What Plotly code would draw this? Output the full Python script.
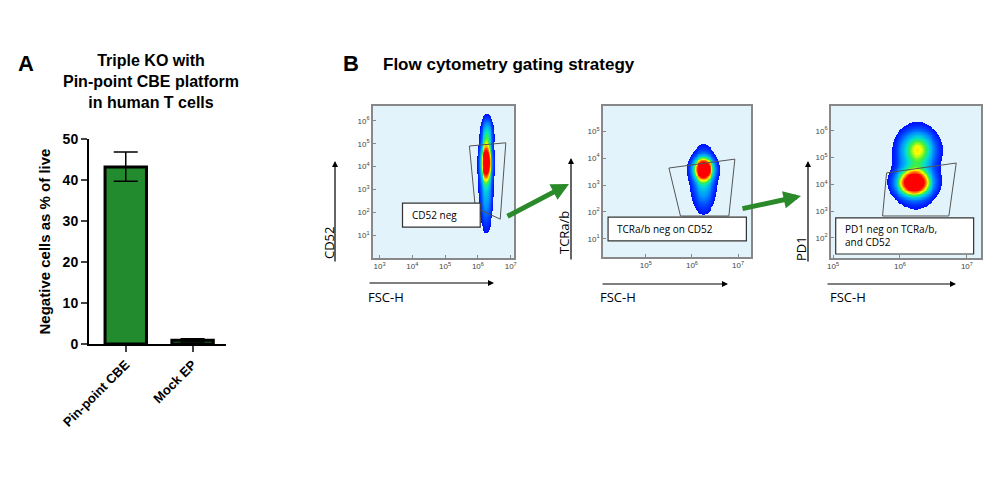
import numpy as np
import plotly.graph_objects as go

W, H = 1000, 495
OFF = 7  # page body margin
def px(x): return (x - OFF) / W
def py(y): return 1 - (y - OFF) / H

# ---- Panel A data ----
categories = ["Pin-point CBE", "Mock EP"]
values = [43.2, 0.9]
err_plus = [3.6, 0.4]
err_minus = [3.5, 0.4]

# ---- Panel B data (log10 units) ----
plot_names = ["CD52", "TCRa/b", "PD1"]
x_ranges = [[2.8, 7.1], [4.07, 7.28], [4.97, 7.21]]
y_ranges = [[0.0, 6.65], [0.33, 5.93], [1.25, 6.93]]
x_ticks = [[3, 4, 5, 6, 7], [5, 6, 7], [5, 6, 7]]
y_ticks = [[1, 2, 3, 4, 5, 6], [1, 2, 3, 4, 5], [2, 3, 4, 5, 6]]
# population blobs: (x centre, y centre, x spread, y spread, weight)
blobs = [
    [(6.25, 4.2, 0.1, 0.5, 1.0), (6.25, 3.0, 0.12, 1.0, 0.25), (6.28, 5.4, 0.11, 0.45, 0.3)],
    [(6.25, 3.6, 0.13, 0.25, 1.0), (6.25, 3.2, 0.15, 0.65, 0.3)],
    [(6.21, 4.05, 0.15, 0.3, 1.0), (6.27, 5.35, 0.16, 0.4, 0.38), (6.24, 4.6, 0.18, 0.8, 0.22)],
]
gates = [
    ([5.74, 6.85, 6.68, 5.92, 5.74], [4.9, 5.04, 1.7, 2.2, 4.9]),
    ([5.5, 6.93, 6.8, 5.75, 5.5], [3.63, 3.96, 1.85, 1.85, 3.63]),
    ([5.8, 6.84, 6.73, 5.74, 5.8], [4.43, 4.8, 2.82, 2.82, 4.43]),
]
gate_labels = ["CD52 neg", "TCRa/b neg on CD52", "PD1 neg on TCRa/b,<br>and CD52"]
label_boxes = [(3.7, 6.07, 1.35, 2.4), (4.18, 7.18, 0.93, 1.81), (5.04, 7.1, 1.4, 2.75)]
frames_px = [(372, 513, 105, 257), (602, 750, 105, 256), (830, 980, 105, 257)]

fig = go.Figure()

fig.add_trace(go.Bar(
    x=categories, y=values, width=0.62,
    marker=dict(color="#228b2e", line=dict(color="black", width=3)),
    error_y=dict(type="data", array=err_plus, arrayminus=err_minus, color="black",
                 thickness=1.5, width=12),
    xaxis="x", yaxis="y", showlegend=False))

jet = [[0, "#0010ff"], [0.2, "#0090ff"], [0.38, "#00e0d0"], [0.52, "#40f040"],
       [0.66, "#ffff00"], [0.82, "#ff8000"], [1, "#ff0000"]]

layout = dict(
    width=W, height=H, margin=dict(l=0, r=0, t=0, b=0, autoexpand=False),
    paper_bgcolor="white", plot_bgcolor="white", showlegend=False,
    font=dict(family="Liberation Sans, Arial", color="black"),
    xaxis=dict(domain=[px(88), px(225)], range=[-0.55, 1.5], showline=True, automargin=False,
               linecolor="black", linewidth=2, ticks="outside", ticklen=6, tickwidth=2,
               tickangle=-45, tickfont=dict(size=13, family="Liberation Sans", color="black"),
               tickvals=categories, ticktext=["<b>%s</b>" % c for c in categories],
               anchor="y"),
    yaxis=dict(domain=[py(343), py(138)], range=[0, 50], showline=True, linecolor="black",
               linewidth=2, ticks="outside", ticklen=6, tickwidth=2, showgrid=False,
               automargin=False, tickvals=[0, 10, 20, 30, 40, 50],
               ticktext=["<b>%d</b>" % v for v in [0, 10, 20, 30, 40, 50]],
               tickfont=dict(size=14, color="black"),
               title=dict(text="<b>Negative cells as % of live</b>", font=dict(size=15), standoff=8),
               anchor="x", zeroline=False),
)

annotations = [
    dict(text="<b>A</b>", x=px(25), y=py(62), font=dict(size=22)),
    dict(text="<b>Triple KO with<br>Pin-point CBE platform<br>in human T cells</b>",
         x=px(150), y=py(81), font=dict(size=16)),
    dict(text="<b>B</b>", x=px(350), y=py(62), font=dict(size=22)),
    dict(text="<b>Flow cytometry gating strategy</b>", x=px(380), y=py(64), xanchor="left",
         font=dict(size=17)),
]
shapes = []

for i in range(3):
    xa, ya = f"x{i+2}", f"y{i+2}"
    l, r, t, b = frames_px[i]
    xr, yr = x_ranges[i], y_ranges[i]
    gx = np.linspace(xr[0], xr[1], 160)
    gy = np.linspace(yr[0], yr[1], 200)
    X, Y = np.meshgrid(gx, gy)
    Z = np.zeros_like(X)
    for cx, cy, sx, sy, wgt in blobs[i]:
        Z += wgt * np.exp(-0.5 * (((X - cx) / sx) ** 2 + ((Y - cy) / sy) ** 2))
    Z = np.where(Z < 0.04, np.nan, Z)
    fig.add_trace(go.Heatmap(x=gx, y=gy, z=Z, colorscale=jet, zmin=0.04, zmax=0.75,
                             showscale=False, xaxis=xa, yaxis=ya, hoverinfo="skip"))
    fig.add_trace(go.Scatter(x=gates[i][0], y=gates[i][1], mode="lines",
                             line=dict(color="#555555", width=1), xaxis=xa, yaxis=ya))
    bx0, bx1, by0, by1 = label_boxes[i]
    shapes.append(dict(type="rect", xref=xa, yref=ya, x0=bx0, x1=bx1, y0=by0, y1=by1,
                       fillcolor="white", line=dict(color="#333333", width=1.2)))
    annotations.append(dict(text=gate_labels[i], xref=xa, yref=ya, x=bx0 + 0.05 * (xr[1] - xr[0]),
                            y=(by0 + by1) / 2, xanchor="left", align="left",
                            font=dict(size=10, family="Open Sans")))
    layout["xaxis%d" % (i + 2)] = dict(
        domain=[px(l), px(r)], range=xr, anchor=ya, showgrid=False, zeroline=False,
        showline=True, mirror=True, linecolor="#888888", linewidth=1.5, automargin=False,
        tickvals=x_ticks[i], ticktext=["10<sup>%d</sup>" % v for v in x_ticks[i]],
        ticks="inside", ticklen=3, tickcolor="#888888", tickfont=dict(size=8, color="#444444"))
    layout["yaxis%d" % (i + 2)] = dict(
        domain=[py(b), py(t)], range=yr, anchor=xa, showgrid=False, zeroline=False,
        showline=True, mirror=True, linecolor="#888888", linewidth=1.5, automargin=False,
        tickvals=y_ticks[i], ticktext=["10<sup>%d</sup>" % v for v in y_ticks[i]],
        ticks="inside", ticklen=3, tickcolor="#888888", tickfont=dict(size=8, color="#444444"))
    shapes.append(dict(type="rect", xref="x%d domain" % (i + 2), yref="y%d domain" % (i + 2),
                       x0=0, x1=1, y0=0, y1=1, fillcolor="#e3f3fb", line_width=0, layer="below"))

def arrow(x0, y0, x1, y1, **kw):
    d = dict(x=px(x1), y=py(y1), ax=x0 - x1, ay=y0 - y1, axref="pixel", ayref="pixel",
             showarrow=True, arrowhead=2, arrowsize=1, arrowwidth=1.2, arrowcolor="black", text="")
    d.update(kw)
    return d

axis_arrows = [((334, 262, 160), (367, 493, 282), (328, 242), (385, 296)),
               ((570, 260, 157), (600, 727, 283), (563, 232), (617, 296)),
               ((807, 262, 160), (825, 955, 283), (800, 248), (847, 296))]
for i, ((vx, vy0, vy1), (hx0, hx1, hy), (lx, ly), (fx, fy)) in enumerate(axis_arrows):
    annotations.append(arrow(vx, vy0, vx, vy1))
    annotations.append(arrow(hx0, hy, hx1, hy))
    annotations.append(dict(text=plot_names[i], x=px(lx), y=py(ly), textangle=-90,
                            font=dict(size=13, family="Open Sans")))
    annotations.append(dict(text="FSC-H", x=px(fx), y=py(fy), font=dict(size=13, family="Open Sans")))

for (x0, y0, x1, y1) in [(505, 216, 568, 183), (740, 208, 800, 195)]:
    annotations.append(arrow(x0, y0, x1, y1, arrowsize=0.7, arrowwidth=5, arrowcolor="#2a8a2a"))

for a in annotations:
    a.setdefault("xref", "paper")
    a.setdefault("yref", "paper")
    a.setdefault("showarrow", False)
    a.setdefault("xanchor", "center")
    a.setdefault("yanchor", "middle")
layout["annotations"] = annotations
layout["shapes"] = shapes
fig.update_layout(**layout)
fig.write_html("out.html")
